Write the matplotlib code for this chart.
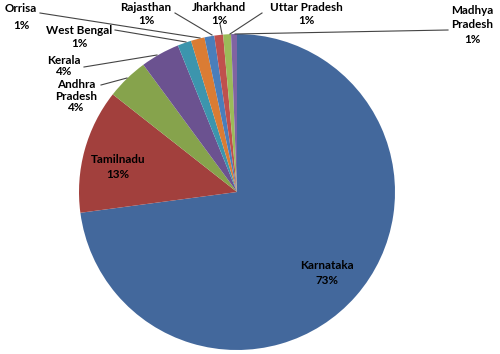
import matplotlib.pyplot as plt

# state-wise share (percent)
states = ["Karnataka", "Tamilnadu", "Andhra\nPradesh", "Kerala", "West Bengal",
          "Orrisa", "Rajasthan", "Jharkhand", "Uttar Pradesh", "Madhya\nPradesh"]
share = [72.9, 12.7, 4.3, 4.0, 1.4, 1.4, 1.0, 0.9, 0.8, 0.6]
colors = ["#43689c", "#a2403d", "#86a34c", "#6b5290", "#3c95ad",
          "#da7c34", "#4a7ebb", "#c0504d", "#9bbb59", "#8064a2"]

# label layout in pixel coords of the 500x354 picture: (x, y, leader end x, leader end y)
cx, cy, r = 237, 192, 158
layout = [
    (327, 273, None, None),
    (118, 167, None, None),
    (76, 96, 127, 78),
    (64, 66, 157, 55),
    (79, 37, 186, 42),
    (21, 17, 200, 38),
    (146, 14, 212, 35),
    (219, 14, 222, 34),
    (306, 14, 230, 34),
    (472, 25, 235, 34),
]
# where the leader starts, next to the text
starts = [None, None, (101, 85), (84, 67), (115, 30), (40, 13), (175, 13),
          (220, 24), (262, 13), (448, 30)]
spacing = [1.42, 1.5, 1.06, 0.95, 1.24, 1.6, 1.15, 1.15, 1.15, 1.4]


def px(x, y):
    return (x - cx) / r, (cy - y) / r


fig = plt.figure(figsize=(5.0, 3.54), dpi=100)
ax = fig.add_axes([0, 0, 1, 1])
ax.pie(share, colors=colors, startangle=90, counterclock=False, radius=1,
       wedgeprops=dict(linewidth=0))
ax.set_xlim(px(0, 0)[0], px(500, 0)[0])
ax.set_ylim(px(0, 354)[1], px(0, 0)[1])
ax.set_aspect("equal")
ax.axis("off")

for i, (name, val) in enumerate(zip(states, share)):
    x, y, ex, ey = layout[i]
    ax.text(*px(x, y), f"{name}\n{val:.0f}%", ha="center", va="center",
            fontsize=8.4, fontweight="bold", family="Lato", color="black",
            linespacing=spacing[i])
    if ex is not None:
        sx, sy = starts[i]
        ax.plot(*zip(px(sx, sy), px(ex, ey)), color="#444444", lw=0.8)

fig.savefig("out.png", dpi=100)
